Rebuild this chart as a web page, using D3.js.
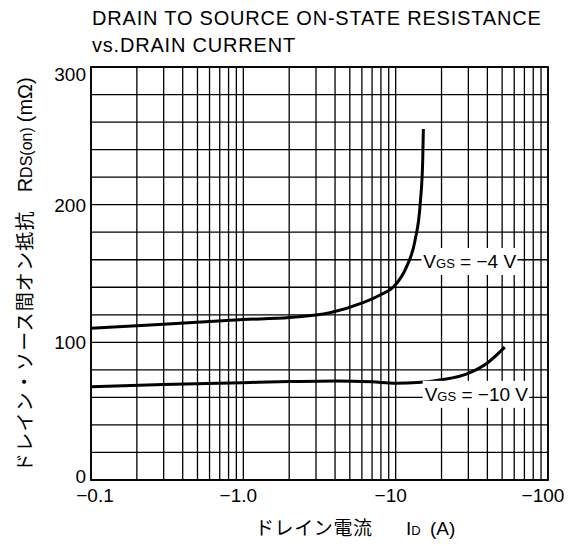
<!DOCTYPE html>
<html>
<head>
<meta charset="utf-8">
<script src="https://cdn.jsdelivr.net/npm/d3@7"></script>
<style>
  body { margin: 0; background: #fff; }
  text { font-family: "Liberation Sans", Arial, sans-serif; fill: #000; }
  .jp { font-family: "Noto Sans CJK JP", sans-serif; }
</style>
</head>
<body>
<div id="chart"></div>
<script>
// drain current (A, negative) vs R_DS(on) (mOhm)
var idVgs4  = [-0.1, -0.3, -1, -2, -3.7, -6.1, -7.9, -9.7, -11.8, -13.4, -14.5, -15.05, -15.2];
var rVgs4   = [110.3, 113.2, 116.5, 118, 121.5, 128.8, 134.4, 140.4, 155, 174, 201, 232, 255];
var idVgs10 = [-0.1, -0.3, -1, -2, -4, -7, -10, -14, -20, -30, -40, -52];
var rVgs10  = [67.8, 69.4, 70.7, 71.5, 72, 71.3, 70.3, 70.8, 72.8, 77.5, 85, 96.5];

var xTicks = [-0.1, -1, -10, -100];
var xTickLabels = ["\u22120.1", "\u22121.0", "\u221210", "\u2212100"];
var yTicks = [0, 100, 200, 300];

var width = 576, height = 546;
var margin = {top: 67, right: 28, bottom: 66, left: 91},
    w = width - margin.left - margin.right,
    h = height - margin.top - margin.bottom;

var svg = d3.select("#chart").append("svg")
  .attr("width", width)
  .attr("height", height);

// title
svg.append("text").attr("x", 92).attr("y", 25)
  .style("font-size", "20px").style("letter-spacing", "0.8px")
  .text("DRAIN TO SOURCE ON-STATE RESISTANCE");
svg.append("text").attr("x", 92).attr("y", 52)
  .style("font-size", "20px").style("letter-spacing", "0.8px")
  .text("vs.DRAIN CURRENT");

var g = svg.append("g")
  .attr("transform", "translate(" + margin.left + "," + margin.top + ")");

var x = d3.scaleLog().domain([-0.1, -100]).range([0, w]);
var y = d3.scaleLinear().domain([0, 300]).range([h, 0]);

// grid: log minors per decade, 20 mOhm steps
var xGrid = [];
[-0.1, -1, -10].forEach(function(dec) {
  for (var k = 1; k < 10; k++) xGrid.push(dec * k);
});
xGrid.push(-100);
var yGrid = d3.range(0, 301, 20);

g.selectAll(".vgrid").data(xGrid).enter().append("line")
  .attr("x1", function(d) { return x(d); })
  .attr("x2", function(d) { return x(d); })
  .attr("y1", 0).attr("y2", h)
  .attr("stroke", "#000").attr("stroke-width", 1.3);

g.selectAll(".hgrid").data(yGrid).enter().append("line")
  .attr("x1", 0).attr("x2", w)
  .attr("y1", function(d) { return y(d); })
  .attr("y2", function(d) { return y(d); })
  .attr("stroke", "#000").attr("stroke-width", 1.3);

g.append("rect")
  .attr("width", w).attr("height", h)
  .attr("fill", "none").attr("stroke", "#000").attr("stroke-width", 1.8);

// curves
var line = d3.line()
  .x(function(d) { return x(d[0]); })
  .y(function(d) { return y(d[1]); })
  .curve(d3.curveMonotoneX);

[[idVgs4, rVgs4], [idVgs10, rVgs10]].forEach(function(s) {
  g.append("path")
    .datum(d3.zip(s[0], s[1]))
    .attr("fill", "none")
    .attr("stroke", "#000")
    .attr("stroke-width", 3)
    .attr("d", line);
});

// curve labels (white box over grid)
var labels = [
  {id: -15.2, r: 154, v: "\u22124"},
  {id: -15.5, r: 57.5, v: "\u221210"}
];
labels.forEach(function(l) {
  var lg = g.append("g");
  var bg = lg.append("rect").attr("fill", "#fff");
  var t = lg.append("text")
    .attr("x", x(l.id)).attr("y", y(l.r))
    .style("font-size", "19px");
  t.append("tspan").text("V");
  t.append("tspan").style("font-size", "13px").text("GS");
  t.append("tspan").text(" = " + l.v + " V");
  var b = t.node().getBBox();
  bg.attr("x", b.x - 2).attr("y", b.y - 3)
    .attr("width", b.width + 3).attr("height", b.height + 6);
});

// axes
var yAxis = g.append("g")
  .call(d3.axisLeft(y).tickValues(yTicks).tickSize(0).tickPadding(5));
yAxis.select(".domain").remove();
yAxis.selectAll("text")
  .style("font-size", "19px").style("font-family", null)
  .attr("dy", function(d) { return d === 300 ? "0.7em" : (d === 0 ? "0.15em" : "0.35em"); });

var xAxis = g.append("g")
  .attr("transform", "translate(0," + h + ")")
  .call(d3.axisBottom(x).tickValues(xTicks).tickSize(0).tickPadding(9)
    .tickFormat(function(d, i) { return xTickLabels[i]; }));
xAxis.select(".domain").remove();
xAxis.selectAll("text")
  .style("font-size", "19px").style("font-family", null)
  .attr("dx", function(d) { return Number.isInteger(d) ? -5.5 : 3.5; });

// x axis title
var xt = svg.append("text").attr("x", 255).attr("y", 535).style("font-size", "19px");
xt.append("tspan").attr("class", "jp").style("letter-spacing", "0.6px").text("ドレイン電流");
xt.append("tspan").attr("x", 406).text("I");
xt.append("tspan").style("font-size", "13px").text("D");
xt.append("tspan").attr("x", 430).text("(A)");

// y axis title
var yt = svg.append("text")
  .attr("transform", "translate(32,472) rotate(-90)")
  .style("font-size", "19px");
yt.append("tspan").attr("class", "jp").style("letter-spacing", "1.2px").text("ドレイン・ソース間オン抵抗");
yt.append("tspan").attr("dx", 18).style("font-size", "20px").text("R");
yt.append("tspan").style("font-size", "16px").text("DS(on)");
yt.append("tspan").attr("dx", 5).style("font-size", "20px").text("(m\u03a9)");
</script>
</body>
</html>
